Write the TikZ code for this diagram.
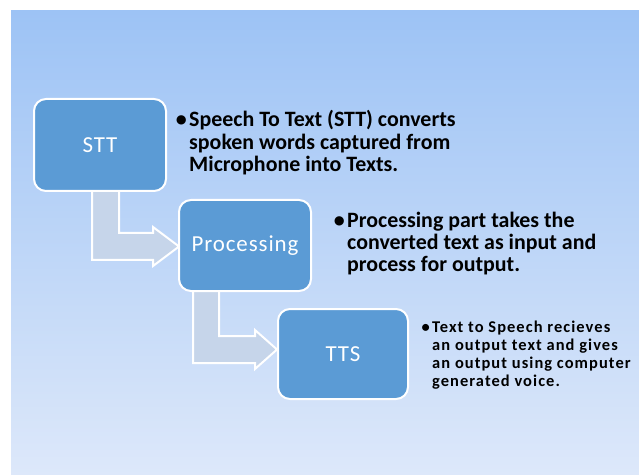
\documentclass[tikz,border=0pt]{standalone}
\usepackage{fontspec}
\setmainfont{Carlito}
\definecolor{boxblue}{RGB}{91,155,213}
\definecolor{arrowfill}{RGB}{198,213,234}
\definecolor{bgtop}{RGB}{157,195,245}
\definecolor{bgbot}{RGB}{221,232,250}
\begin{document}
\begin{tikzpicture}[x=1bp,y=-1bp,
  stage/.style={draw=white, line width=2bp, fill=boxblue, rounded corners=12bp,
    text=white, font=\addfontfeature{LetterSpace=4}\fontsize{23}{23}\selectfont,
    inner sep=0pt, anchor=north west},
  bentarrow/.style={draw=white, line width=2bp, fill=arrowfill, line join=miter},
  note/.style={anchor=base west, inner sep=0pt, text=black}]
\useasboundingbox (0,0) rectangle (639,475);
\shade[top color=bgtop, bottom color=bgbot] (11,11) rectangle (639,475);

% bent block arrows
\draw[bentarrow] (92,185) -- (119,185) -- (119,233) -- (153,233) -- (153,227)
  -- (179,246.5) -- (153,266) -- (153,260) -- (92,260) -- cycle;
\draw[bentarrow] (193,285) -- (219,285) -- (219,336) -- (255,336) -- (255,330)
  -- (277,349.5) -- (255,369) -- (255,363) -- (193,363) -- cycle;

% stages
\node[stage, minimum width=132bp, minimum height=92bp] (stt) at (33,98) {STT};
\node[stage, minimum width=132bp, minimum height=91bp] (proc) at (178,199) {Processing};
\node[stage, minimum width=130bp, minimum height=90bp] (tts) at (277,308) {TTS};

% notes
\node[note, font=\bfseries\fontsize{22}{22.5}\selectfont] (n1) at (189,127)
  {\vtop{\hbox{\llap{•\hskip 2.5bp}Speech To Text (STT) converts}
         \hbox{spoken words captured from}
         \hbox{Microphone into Texts.}}};
\node[note, font=\bfseries\fontsize{22}{22}\selectfont] (n2) at (347,228)
  {\vtop{\hbox{\llap{•\hskip 2.5bp}Processing part takes the}
         \hbox{converted text as input and}
         \hbox{process for output.}}};
\node[note, font=\bfseries\addfontfeature{LetterSpace=6.5}\fontsize{16.5}{18.4}\selectfont] (n3) at (432,332)
  {\vtop{\hbox{\llap{•\hskip 2.5bp}Text to Speech recieves}
         \hbox{an output text and gives}
         \hbox{an output using computer}
         \hbox{generated voice.}}};
\end{tikzpicture}
\end{document}
